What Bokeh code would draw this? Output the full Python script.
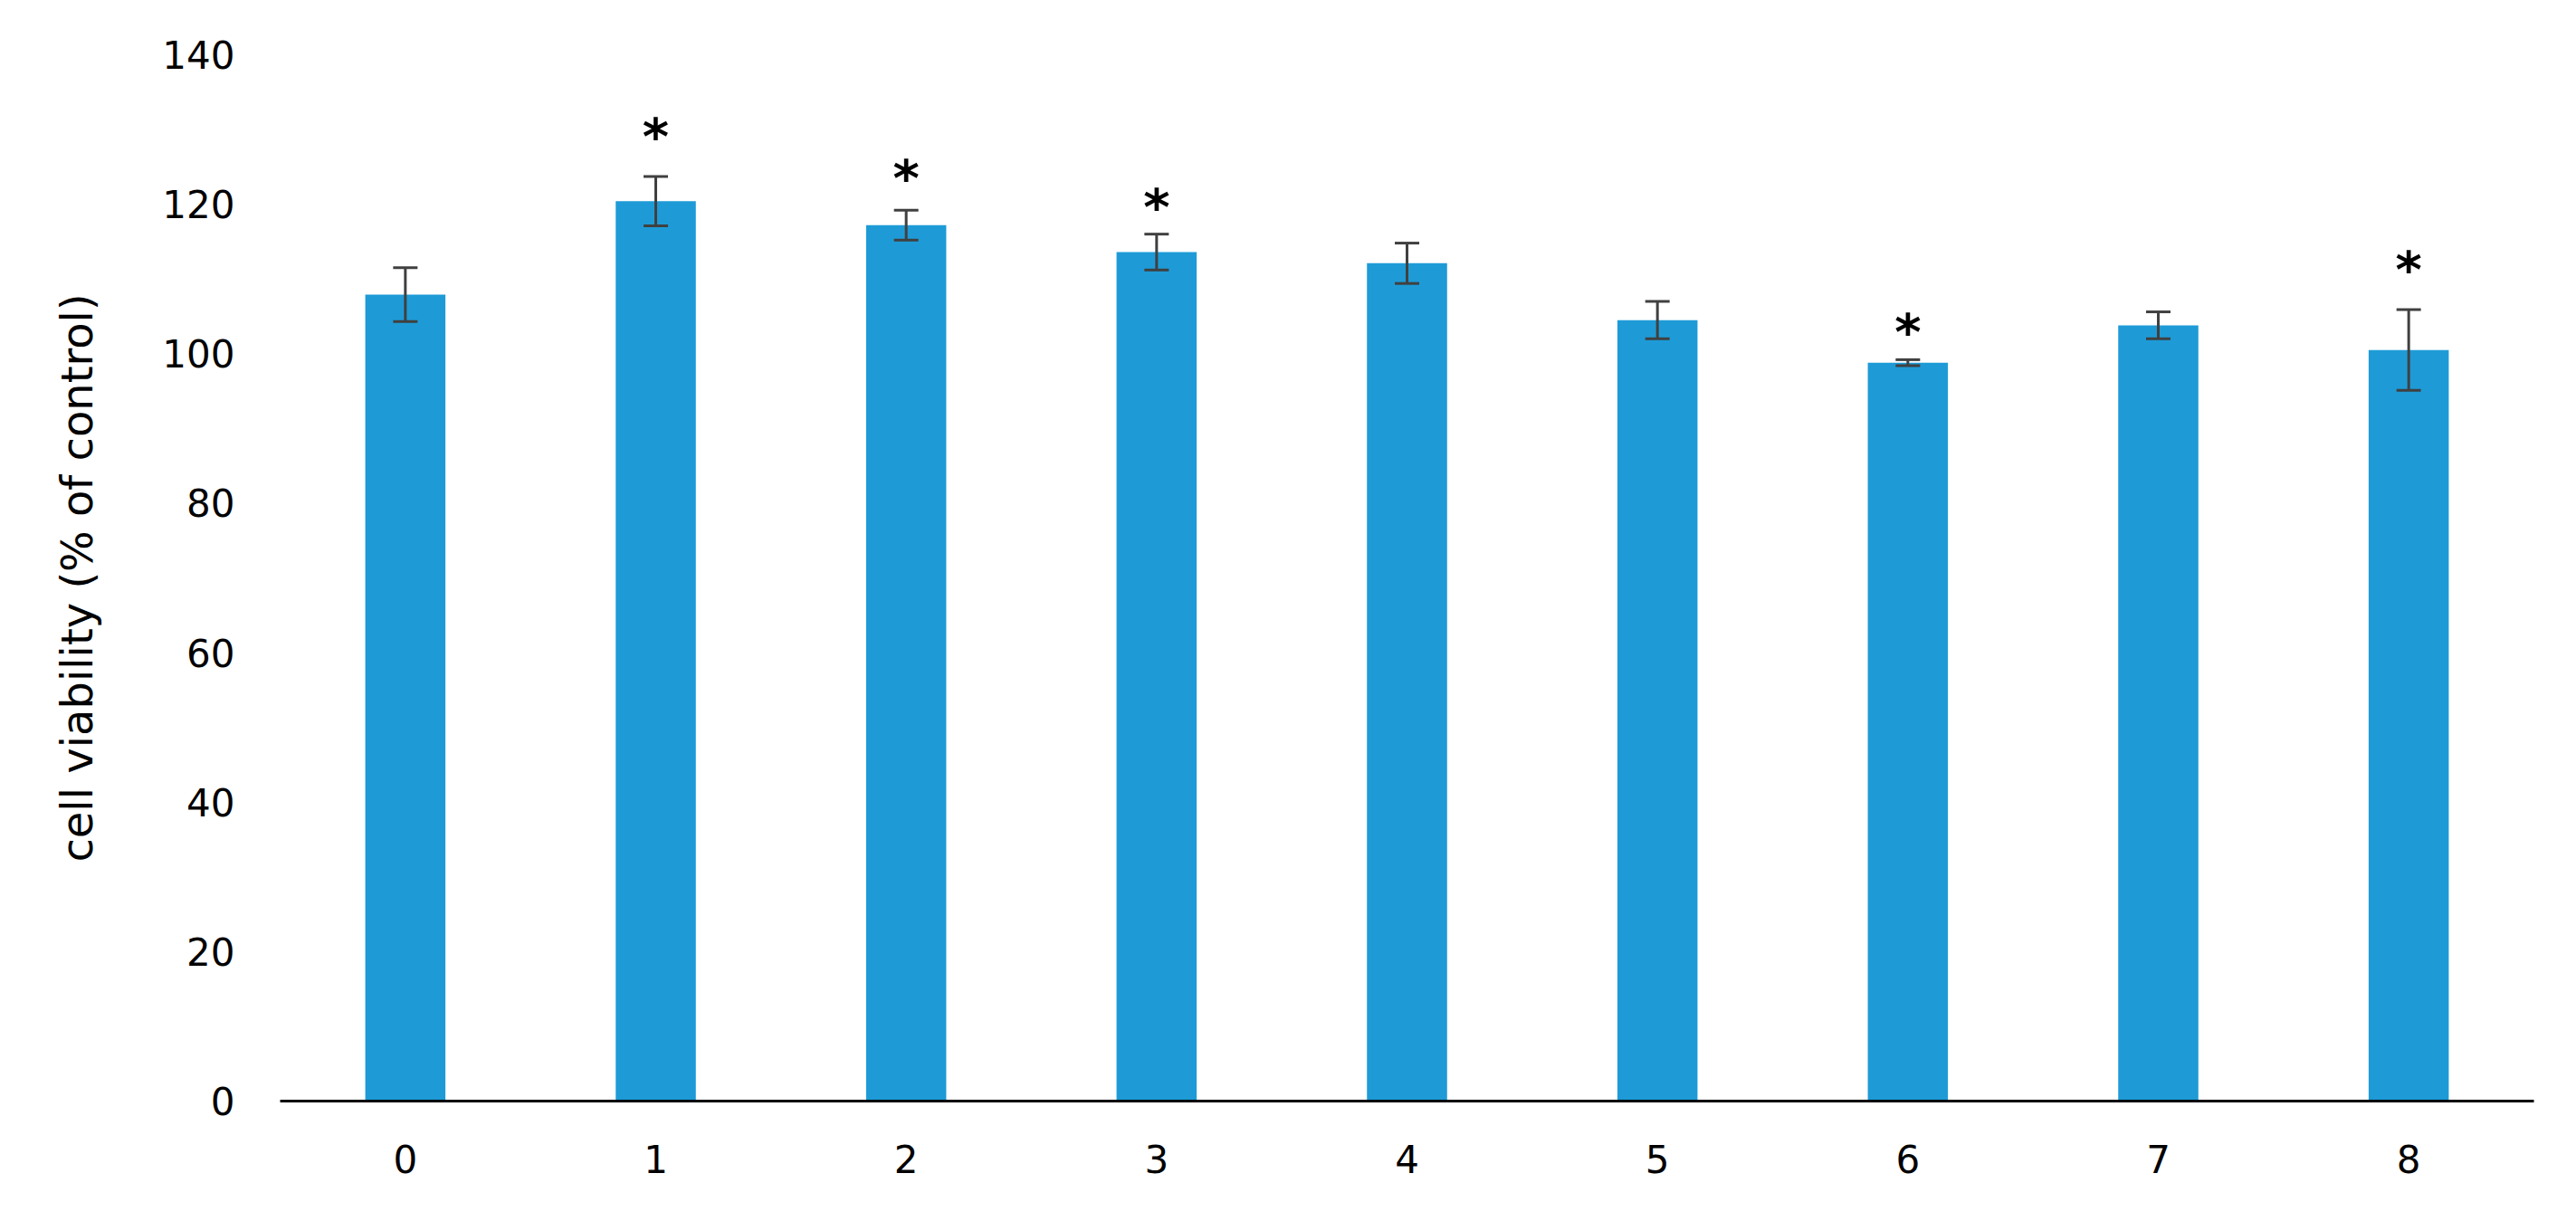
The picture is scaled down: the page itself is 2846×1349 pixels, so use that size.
from bokeh.plotting import figure
from bokeh.models import ColumnDataSource, Whisker, TeeHead, FixedTicker, Range1d
from bokeh.core.properties import value
from bokeh.embed import file_html
from bokeh.resources import INLINE

categories = ["0", "1", "2", "3", "4", "5", "6", "7", "8"]
means = [107.9, 120.4, 117.2, 113.6, 112.1, 104.5, 98.8, 103.8, 100.5]
errors = [3.6, 3.3, 2.0, 2.4, 2.7, 2.5, 0.4, 1.8, 5.4]
y_ticks = [0, 20, 40, 60, 80, 100, 120, 140]

# significance markers: category and height at which the "*" sits
star_cats = ["1", "2", "3", "6", "8"]
star_heights = [130.7, 125.1, 121.2, 104.5, 112.9]

FONT = "DejaVu Sans"

src = ColumnDataSource(dict(
    cat=categories,
    mean=means,
    upper=[m + e for m, e in zip(means, errors)],
    lower=[m - e for m, e in zip(means, errors)],
))

star_src = ColumnDataSource(dict(cat=star_cats, y=star_heights, t=["*"] * len(star_cats)))

p = figure(x_range=categories, y_range=Range1d(0, 140),
           width=2830, height=1333, output_backend="svg", toolbar_location=None,
           min_border_left=309, min_border_right=31, min_border_top=60, min_border_bottom=117)

p.vbar(x="cat", top="mean", bottom=0, width=0.32, source=src,
       fill_color="#1E9BD7", line_color=None)

w = Whisker(base="cat", upper="upper", lower="lower", source=src,
            line_color="#404040", line_width=3, level="annotation",
            upper_head=TeeHead(size=27, line_color="#404040", line_width=3),
            lower_head=TeeHead(size=27, line_color="#404040", line_width=3))
p.add_layout(w)

p.text(x="cat", y="y", text="t", source=star_src, text_font=value(FONT),
       text_font_size="56px", text_font_style="bold", text_color="black",
       text_align="center", text_baseline="middle", y_offset=13)

p.xgrid.visible = False
p.ygrid.visible = False
p.outline_line_color = None

p.yaxis.ticker = FixedTicker(ticks=y_ticks)
p.yaxis.axis_line_color = None
p.yaxis.major_tick_line_color = None
p.yaxis.minor_tick_line_color = None
p.yaxis.major_tick_out = 0
p.yaxis.major_label_standoff = 50
p.yaxis.major_label_text_font = FONT
p.yaxis.major_label_text_font_size = "42px"
p.yaxis.major_label_text_color = "#000000"
p.yaxis.axis_label = "cell viability (% of control)"
p.yaxis.axis_label_text_font = FONT
p.yaxis.axis_label_text_font_size = "48px"
p.yaxis.axis_label_text_font_style = "normal"
p.yaxis.axis_label_text_color = "#000000"
p.yaxis.axis_label_standoff = 63

p.xaxis.axis_line_color = "#000000"
p.xaxis.axis_line_width = 3
p.xaxis.major_tick_line_color = None
p.xaxis.minor_tick_line_color = None
p.xaxis.major_tick_out = 0
p.xaxis.major_label_standoff = 48
p.xaxis.major_label_text_font = FONT
p.xaxis.major_label_text_font_size = "42px"
p.xaxis.major_label_text_color = "#000000"

open("out.html", "w").write(file_html(p, INLINE))
